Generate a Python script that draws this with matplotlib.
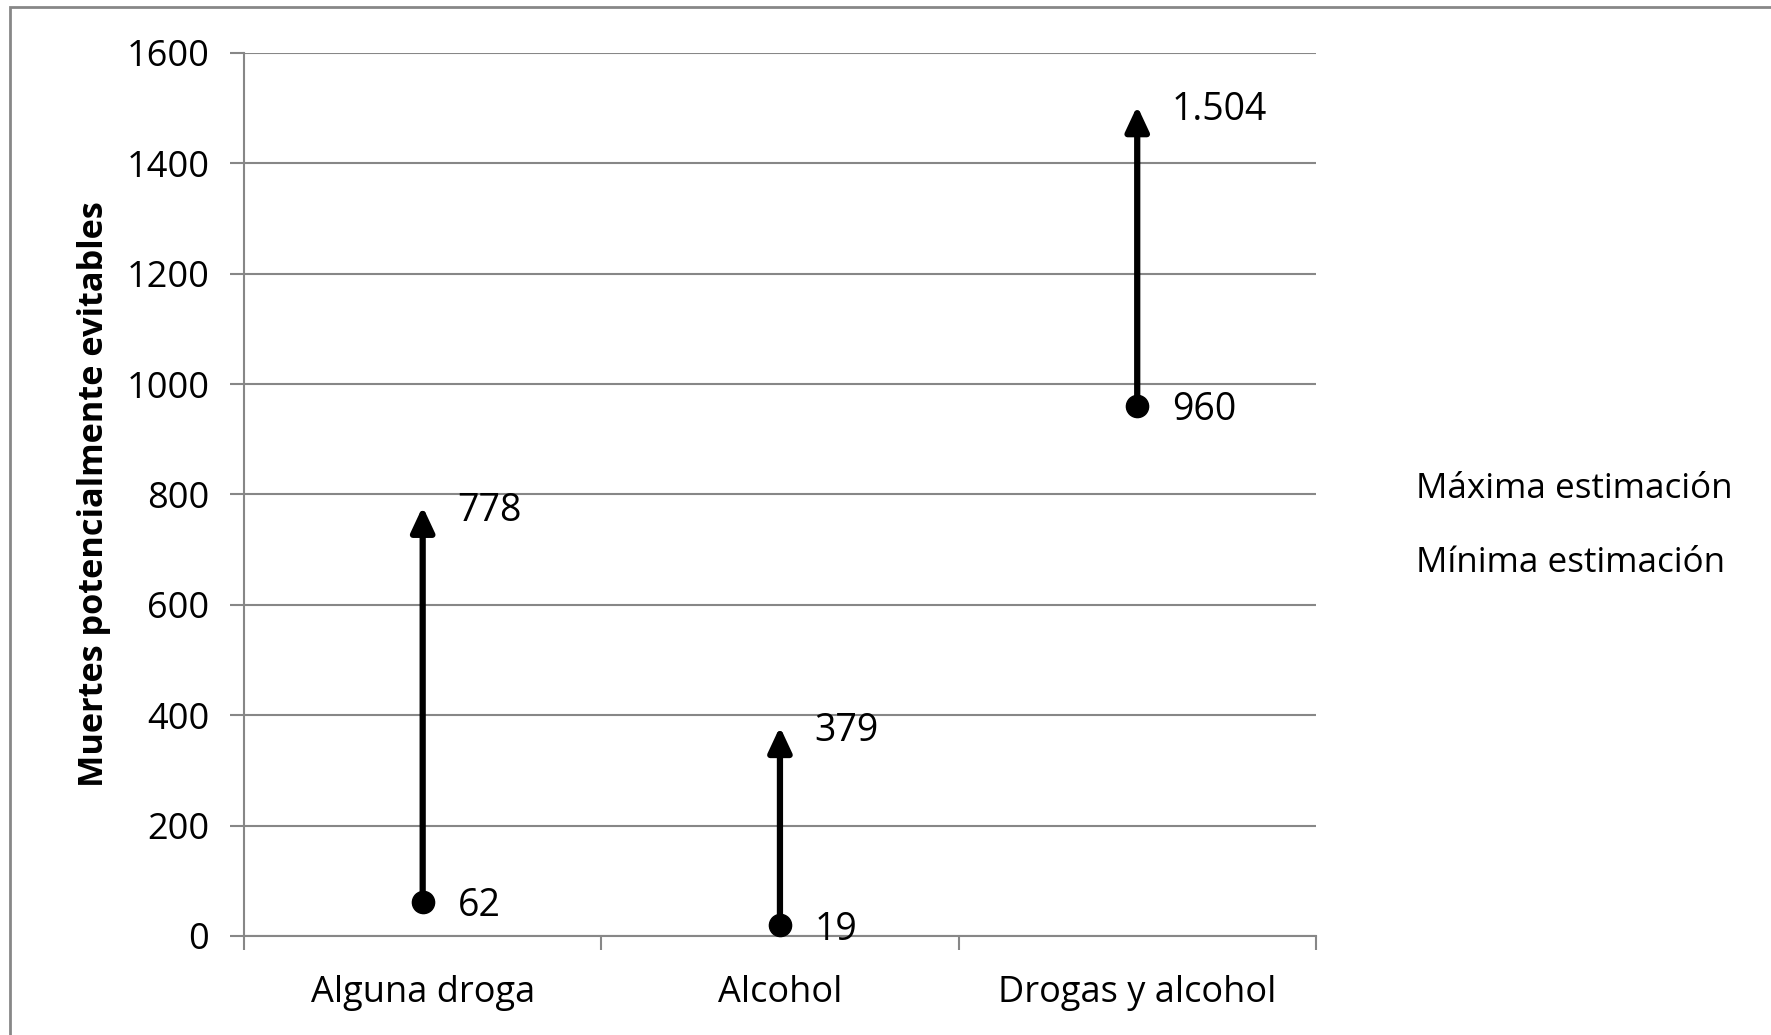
import numpy as np
import matplotlib.pyplot as plt
from matplotlib.patches import Rectangle

categories = ['Alguna droga', 'Alcohol', 'Drogas y alcohol']
min_est = [62, 19, 960]
max_est = [778, 379, 1504]
min_labels = ['62', '19', '960']
max_labels = ['778', '379', '1.504']

grey = '#878787'
plt.rcParams['font.family'] = ['Open Sans', 'DejaVu Sans']

fig = plt.figure(figsize=(17.71, 10.35), dpi=100)
ax = fig.add_axes([0.1378, 0.0957, 0.743 - 0.1378, 0.9488 - 0.0957])

x = np.arange(len(categories))

# arrows from minimum to maximum estimate
for xi, lo, hi in zip(x, min_est, max_est):
    ax.annotate('', xy=(xi, hi), xytext=(xi, lo),
                arrowprops=dict(arrowstyle='-|>,head_length=0.75,head_width=0.35',
                                lw=4.5, color='black', shrinkA=0, shrinkB=0,
                                mutation_scale=20))
ax.plot([], [], color='black', lw=4.5, label='Máxima estimación')
ax.plot(x, min_est, 'o', color='black', ms=16, zorder=5,
        label='Mínima estimación', clip_on=False)

for xi, lo, hi, ls, hs in zip(x, min_est, max_est, min_labels, max_labels):
    for v, s in [(hi, hs), (lo, ls)]:
        ax.annotate(s, (xi, v), xytext=(25, -3), textcoords='offset points',
                    fontsize=27, va='center', ha='left')

ax.set_xlim(-0.5, 2.5)
ax.set_ylim(0, 1600)
ax.set_yticks(np.arange(0, 1601, 200))
ax.set_xticks(x)
ax.set_xticklabels(categories)
ax.set_xticks([-0.5, 0.5, 1.5, 2.5], minor=True)
ax.grid(axis='y', color=grey, lw=1.5)
ax.set_axisbelow(True)

for s in ['top', 'right']:
    ax.spines[s].set_visible(False)
for s in ['left', 'bottom']:
    ax.spines[s].set_color(grey)
    ax.spines[s].set_linewidth(1.5)

ax.tick_params(axis='y', length=10, width=1.5, color=grey, pad=15, labelsize=26)
ax.tick_params(axis='x', which='major', length=0, pad=28, labelsize=26)
ax.tick_params(axis='x', which='minor', length=10, width=1.5, color=grey)

ax.set_ylabel('Muertes potencialmente evitables', fontsize=24.7, fontweight='bold',
              labelpad=11)

leg = fig.legend(loc='upper left', bbox_to_anchor=(0.782, 0.574), frameon=False,
                 fontsize=25.2, handlelength=0, handletextpad=0, labelspacing=1.12)
for h in leg.legend_handles:
    h.set_visible(False)

# outer chart frame
fig.patches.append(Rectangle((10 / 1771, -0.1), 1.2, 1 - 7 / 1035 + 0.1,
                             transform=fig.transFigure, fill=False,
                             edgecolor=grey, lw=2))

fig.savefig('out.png', dpi=100)
